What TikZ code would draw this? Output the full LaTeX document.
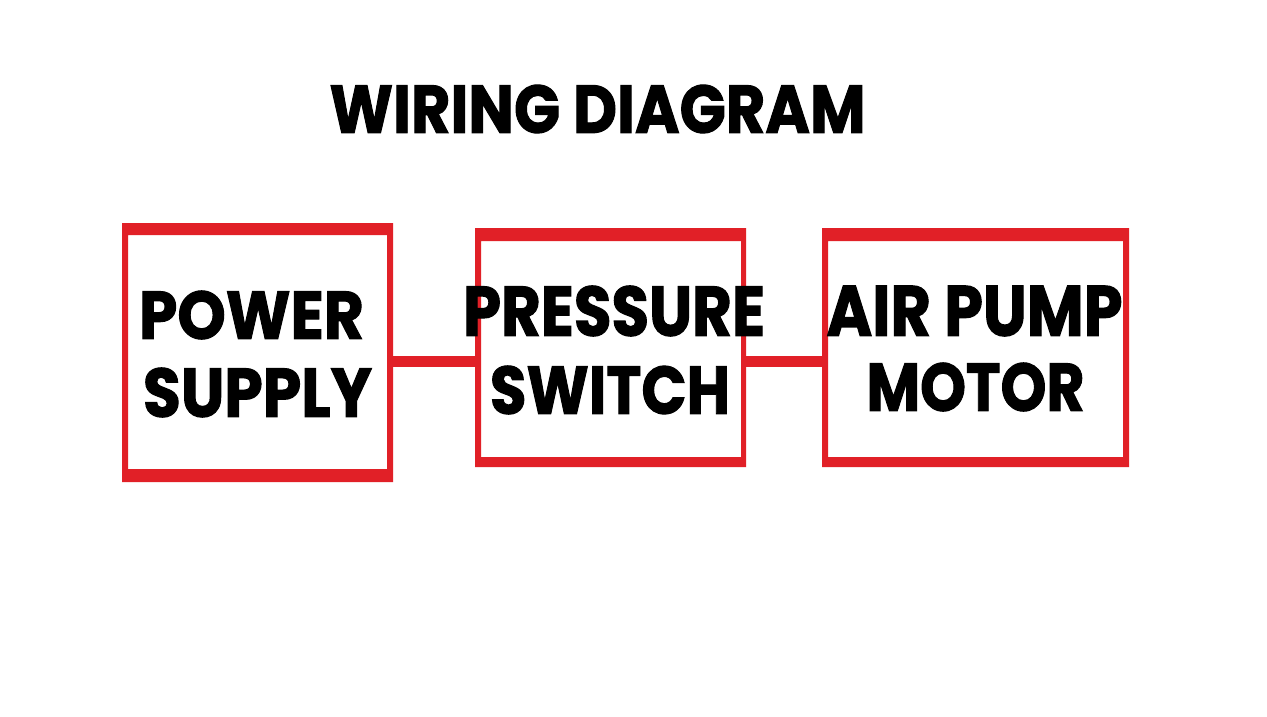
\documentclass[tikz,border=0pt]{standalone}
\usepackage{fontspec}
\setmainfont{Poppins}[BoldFeatures={FakeBold=1.6}]
\usetikzlibrary{calc}
\definecolor{wirered}{RGB}{225,32,39}
\tikzset{
  blk/.style={rectangle,draw=none,inner sep=0pt,outer sep=0pt},
  frame/.style={fill=wirered,even odd rule},
  wire/.style={draw=wirered,line width=11pt},
  lbl/.style={inner sep=0pt,outer sep=0pt,text=black}
}
\newcommand{\fitword}[3]{\resizebox{#1pt}{#2pt}{\bfseries #3}}
\begin{document}
\begin{tikzpicture}[x=1pt,y=-1pt]
\useasboundingbox (0,0) rectangle (1267,716);
\fill[white] (0,0) rectangle (1267,716);
% blocks
\node[blk,minimum width=271pt,minimum height=259pt] (ps) at (257.5,352.5) {};
\node[blk,minimum width=271pt,minimum height=239pt] (prs) at (610.5,347.5) {};
\node[blk,minimum width=307pt,minimum height=239pt] (apm) at (975.5,347.5) {};
% frames
\path[frame] (ps.north west) rectangle (ps.south east)
  ($(ps.north west)+(6,12)$) rectangle ($(ps.south east)+(-6,-13)$);
\path[frame] (prs.north west) rectangle (prs.south east)
  ($(prs.north west)+(6,13)$) rectangle ($(prs.south east)+(-5,-10)$);
\path[frame] (apm.north west) rectangle (apm.south east)
  ($(apm.north west)+(6,13)$) rectangle ($(apm.south east)+(-6,-10)$);
% connectors
\coordinate (w1a) at (ps.east |- 0,361.5);
\coordinate (w1b) at (prs.west |- 0,361.5);
\coordinate (w2a) at (prs.east |- 0,361.5);
\coordinate (w2b) at (apm.west |- 0,361.5);
\draw[wire] (w1a) -- (w1b);
\draw[wire] (w2a) -- (w2b);
% title
\node[lbl] (title) at (597.5,109) {\fitword{536}{48}{WIRING DIAGRAM}};
% labels
\node[lbl] (t1a) at (251.5,315) {\fitword{225}{48}{POWER}};
\node[lbl] (t1b) at (257.5,392.5) {\fitword{229}{49}{SUPPLY}};
\node[lbl] (t2a) at (614,311) {\fitword{302}{50}{PRESSURE}};
\node[lbl] (t2b) at (610,390) {\fitword{240}{48}{SWITCH}};
\node[lbl] (t3a) at (974.5,311) {\fitword{296}{50}{AIR PUMP}};
\node[lbl] (t3b) at (975.5,387) {\fitword{218}{48}{MOTOR}};
\end{tikzpicture}
\end{document}
